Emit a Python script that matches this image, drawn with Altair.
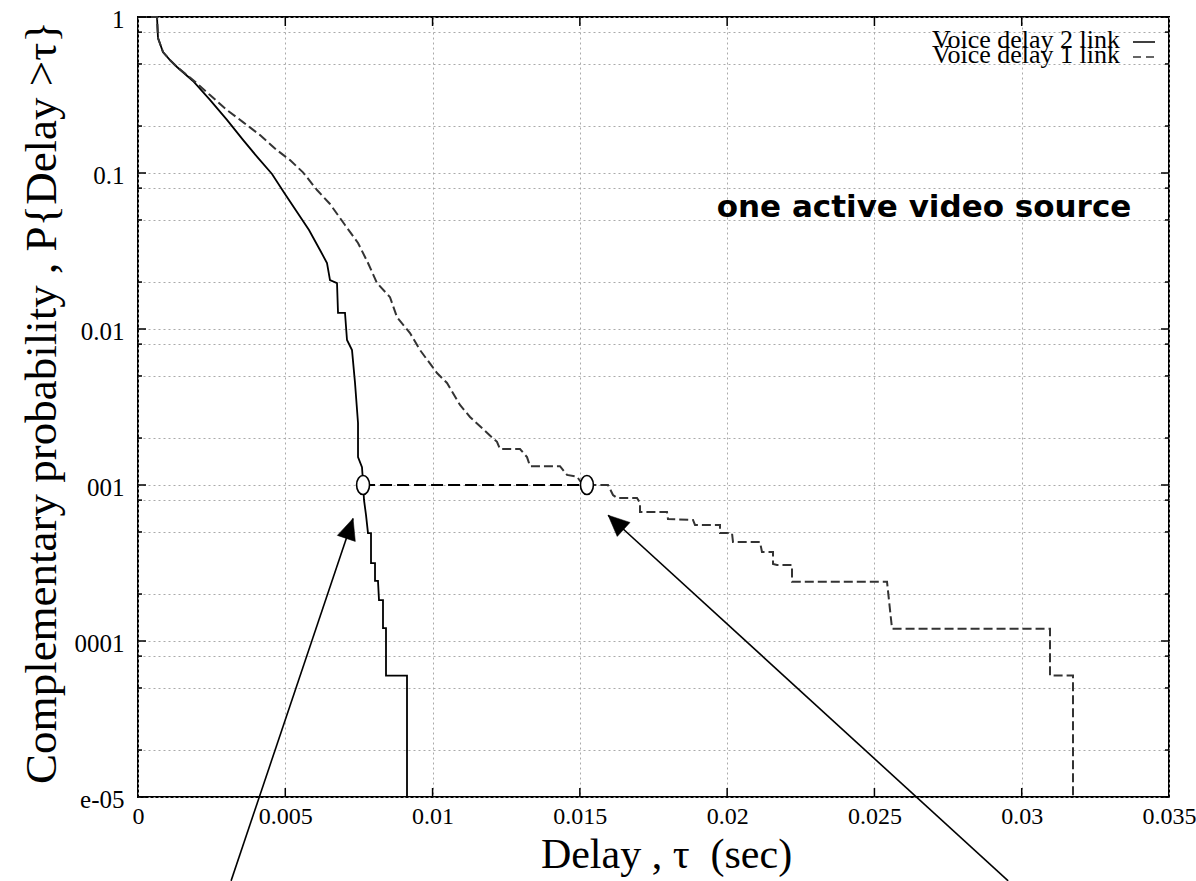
import altair as alt
import pandas as pd

# ---------------- data ----------------
# Voice delay 2 link (solid)
solid_x = [0, 0.000645, 0.000679, 0.000849, 0.001086, 0.001324, 0.001867, 0.002444,
           0.003021, 0.003565, 0.004074, 0.004549, 0.004990, 0.005398, 0.005805,
           0.006178, 0.006416, 0.006518, 0.006756, 0.006790, 0.007027, 0.007095,
           0.007265, 0.007367, 0.007469, 0.007469, 0.007604, 0.007638, 0.007672,
           0.007740, 0.007808, 0.007910, 0.007910, 0.008046, 0.008046, 0.008147,
           0.008181, 0.008317, 0.008317, 0.008419, 0.008419, 0.009132, 0.009132]
solid_y = [1, 1, 0.733, 0.596, 0.530, 0.478, 0.389, 0.294, 0.219, 0.163, 0.125,
           0.0986, 0.0733, 0.0562, 0.0431, 0.0321, 0.0265, 0.0206, 0.0197, 0.0127,
           0.0127, 0.0085, 0.00733, 0.00451, 0.0025, 0.00151, 0.0013, 0.00105,
           0.000802, 0.000643, 0.000492, 0.000492, 0.000316, 0.000316, 0.000243,
           0.000243, 0.000183, 0.000183, 0.000121, 0.000121, 0.00006, 0.00006, 0.00001]

# Voice delay 1 link (dashed)
dashed_x = [0, 0.000645, 0.000679, 0.000849, 0.001086, 0.001324, 0.001867, 0.002444,
            0.003021, 0.003565, 0.004142, 0.004719, 0.005160, 0.005601, 0.006077,
            0.006518, 0.007027, 0.007469, 0.007808, 0.008113, 0.008555, 0.008793,
            0.009234, 0.009573, 0.010150, 0.010490, 0.010931, 0.011271, 0.011848,
            0.012187, 0.012289, 0.012968, 0.013206, 0.013308, 0.014326, 0.014564,
            0.014903, 0.015107, 0.015956, 0.016125, 0.016261, 0.016940, 0.017042,
            0.017042, 0.017958, 0.017992, 0.018841, 0.018909, 0.019757, 0.019757,
            0.020165, 0.020199, 0.021115, 0.021183, 0.021557, 0.021557, 0.021693,
            0.022202, 0.022202, 0.025427, 0.025597, 0.030960, 0.030960, 0.031741, 0.031741]
dashed_y = [1, 1, 0.733, 0.596, 0.530, 0.478, 0.395, 0.316, 0.253, 0.212, 0.175,
            0.140, 0.121, 0.101, 0.0778, 0.0633, 0.0464, 0.0356, 0.0265, 0.0197,
            0.0160, 0.0119, 0.00942, 0.00733, 0.00522, 0.00451, 0.00326, 0.00273,
            0.00216, 0.00189, 0.00170, 0.00170, 0.00151, 0.00132, 0.00132, 0.00116,
            0.00113, 0.001, 0.001, 0.000863, 0.000826, 0.000826, 0.000767, 0.000672,
            0.000672, 0.000605, 0.000597, 0.000555, 0.000555, 0.000492, 0.000492,
            0.000431, 0.000431, 0.000372, 0.000372, 0.000312, 0.000307, 0.000307,
            0.00024, 0.00024, 0.00012, 0.00012, 0.00006, 0.00006, 0.00001]

x_tick_values = [0, 0.005, 0.01, 0.015, 0.02, 0.025, 0.03, 0.035]
x_tick_labels = ["0", "0.005", "0.01", "0.015", "0.02", "0.025", "0.03", "0.035"]
y_decades = [0.00001, 0.0001, 0.001, 0.01, 0.1, 1]
y_tick_labels = ["e-05", "0001", "001", "0.01", "0.1", "1"]
y_minor = [0.00002, 0.00005, 0.00008, 0.0002, 0.0005, 0.0008, 0.002, 0.005, 0.008,
           0.02, 0.05, 0.08, 0.2, 0.5, 0.8]

marker_x = [0.00764, 0.01524]
marker_y = [0.001, 0.001]

arrow_tail_x = [0.00316, 0.02954]
arrow_tail_y = [0.0000029, 0.0000029]
arrow_tip_x = [0.00730, 0.01596]
arrow_tip_y = [0.00061, 0.00064]

legend_labels = ["Voice delay 2 link", "Voice delay 1 link"]
annotation = "one active video source"
x_title = "Delay , \u03c4\u00a0 (sec)"
y_title = "Complementary probability , P{Delay >\u03c4}"

# ---------------- chart ----------------
W, H = 1031, 780
SERIF = "Liberation Serif"

xs = alt.Scale(domain=[0, 0.035], nice=False, zero=False)
ys = alt.Scale(type="log", domain=[0.00001, 1], nice=False)

solid_df = pd.DataFrame({"x": solid_x, "y": solid_y, "i": range(len(solid_x))})
dashed_df = pd.DataFrame({"x": dashed_x, "y": dashed_y, "i": range(len(dashed_x))})

x_label_expr = "[" + ",".join("'%s'" % s for s in x_tick_labels) + "][round(datum.value/0.005)]"
y_label_expr = ("abs(log(datum.value)/LN10 - round(log(datum.value)/LN10)) < 0.001 ? ["
                + ",".join("'%s'" % s for s in y_tick_labels)
                + "][round(log(datum.value)/LN10)+5] : ''")

grid_common = dict(grid=True, gridColor="#aaaaaa", gridDash=[2, 3], gridWidth=1,
                   ticks=False, tickSize=0, domain=False, labelFont=SERIF,
                   labelColor="black", labelFlush=False,
                   labelOverlap=False, titleFont=SERIF, titleFontWeight="normal",
                   titleColor="black")

x_axis = alt.Axis(values=x_tick_values, labelExpr=x_label_expr, labelPadding=7,
                  labelFontSize=24,
                  title=x_title, titleFontSize=42, titleX=528, titleY=70,
                  titleBaseline="alphabetic", titleAlign="center", **grid_common)
y_axis = alt.Axis(values=sorted(y_decades + y_minor), labelExpr=y_label_expr,
                  labelPadding=14, labelBaseline="middle", labelOffset=2,
                  labelFontSize=25,
                  title=y_title, titleFontSize=45, titleAngle=270, titleX=-83,
                  titleY=385, titleBaseline="alphabetic", titleAlign="center",
                  **grid_common)


def X(field):
    return alt.X(field, scale=xs, axis=x_axis)


def Y(field):
    return alt.Y(field, scale=ys, axis=y_axis)


solid = alt.Chart(solid_df).mark_line(color="black", strokeWidth=1.8).encode(
    x=X("x:Q"), y=Y("y:Q"), order="i:Q",
)
dashed = alt.Chart(dashed_df).mark_line(color="#333333", strokeWidth=2,
                                        strokeDash=[9, 4]).encode(
    x=X("x:Q"), y=Y("y:Q"), order="i:Q",
)

conn_df = pd.DataFrame({"x1": [marker_x[0]], "x2": [marker_x[1]], "y": [marker_y[0]]})
connector = alt.Chart(conn_df).mark_rule(color="black", strokeWidth=2,
                                         strokeDash=[12, 5]).encode(
    x=X("x1:Q"), x2="x2:Q", y=Y("y:Q"),
)

ELLIPSE = "M-0.68,0 A0.68,1 0 1,0 0.68,0 A0.68,1 0 1,0 -0.68,0 Z"
marker_df = pd.DataFrame({"x": marker_x, "y": marker_y})
markers = alt.Chart(marker_df).mark_point(shape=ELLIPSE, size=361, filled=True,
                                          fill="white", stroke="black",
                                          strokeWidth=1.6, opacity=1).encode(
    x=X("x:Q"), y=Y("y:Q"),
)

arrow_df = pd.DataFrame({"x0": arrow_tail_x, "y0": arrow_tail_y,
                         "x1": arrow_tip_x, "y1": arrow_tip_y})
arrow_lines = alt.Chart(arrow_df).mark_rule(color="black", strokeWidth=1.6).encode(
    x=X("x0:Q"), x2="x1:Q", y=Y("y0:Q"), y2="y1:Q",
)
HEAD = "M0,0 L0.9,2 L-0.9,2 Z"
head_angles = [18.6, 312.5]
heads = []
for k, ang in enumerate(head_angles):
    hd = pd.DataFrame({"x": [arrow_tip_x[k]], "y": [arrow_tip_y[k]]})
    heads.append(alt.Chart(hd).mark_point(shape=HEAD, size=441, filled=True,
                                          fill="black", stroke="black",
                                          strokeWidth=0.5, opacity=1, angle=ang).encode(
        x=X("x:Q"), y=Y("y:Q"),
    ))

# inward ticks on the frame
xt_df = pd.DataFrame({"x": x_tick_values[1:-1]})
ymaj_df = pd.DataFrame({"y": y_decades})
ymin_df = pd.DataFrame({"y": y_minor})
tick_layers = [
    alt.Chart(xt_df).mark_rule(color="black", strokeWidth=1.5).encode(
        x=X("x:Q"), y=alt.value(0), y2=alt.value(9)),
    alt.Chart(xt_df).mark_rule(color="black", strokeWidth=1.5).encode(
        x=X("x:Q"), y=alt.value(H - 9), y2=alt.value(H)),
    alt.Chart(ymaj_df).mark_rule(color="black", strokeWidth=1.5).encode(
        y=Y("y:Q"), x=alt.value(0), x2=alt.value(8)),
    alt.Chart(ymaj_df).mark_rule(color="black", strokeWidth=1.5).encode(
        y=Y("y:Q"), x=alt.value(W - 8), x2=alt.value(W)),
    alt.Chart(ymin_df).mark_rule(color="black", strokeWidth=1.5).encode(
        y=Y("y:Q"), x=alt.value(0), x2=alt.value(4)),
    alt.Chart(ymin_df).mark_rule(color="black", strokeWidth=1.5).encode(
        y=Y("y:Q"), x=alt.value(W - 4), x2=alt.value(W)),
]

# legend (manual, inside top-right)
one = alt.Data(values=[{"a": 1}])
leg_texts = [
    alt.Chart(alt.Data(values=[{"t": legend_labels[0]}])).mark_text(
        font=SERIF, fontSize=26, color="black", align="right", baseline="alphabetic"
    ).encode(x=alt.value(982), y=alt.value(31), text="t:N"),
    alt.Chart(alt.Data(values=[{"t": legend_labels[1]}])).mark_text(
        font=SERIF, fontSize=26, color="black", align="right", baseline="alphabetic"
    ).encode(x=alt.value(982), y=alt.value(46), text="t:N"),
]
leg_lines = [
    alt.Chart(one).mark_rule(color="black", strokeWidth=1.5).encode(
        x=alt.value(995), x2=alt.value(1017), y=alt.value(25)),
    alt.Chart(one).mark_rule(color="#333333", strokeWidth=1.5, strokeDash=[8, 5]).encode(
        x=alt.value(995), x2=alt.value(1017), y=alt.value(40)),
]

note = alt.Chart(alt.Data(values=[{"t": annotation}])).mark_text(
    font="DejaVu Sans", fontSize=31, fontWeight="bold", color="black",
    align="center", baseline="alphabetic"
).encode(x=alt.value(786), y=alt.value(200), text="t:N")

chart = alt.layer(
    solid, dashed, connector, arrow_lines, *heads, markers, *tick_layers,
    *leg_texts, *leg_lines, note
).properties(
    width=W, height=H,
    autosize=alt.AutoSizeParams(type="none"),
    padding={"left": 138, "top": 17, "right": 27, "bottom": 84},
    background="white",
).configure_view(stroke="black", strokeWidth=2)

chart.save("out.html", embed_options={"renderer": "svg", "actions": False})
